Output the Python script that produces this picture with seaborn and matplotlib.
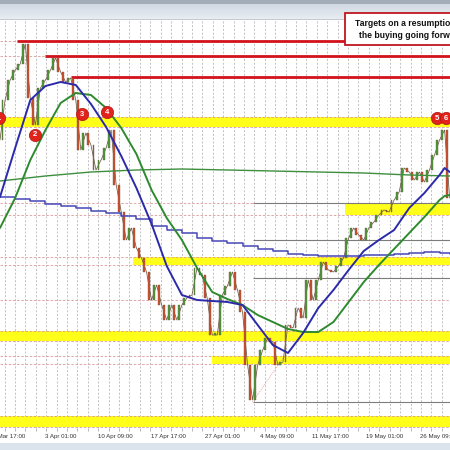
import numpy as np
import pandas as pd
import matplotlib
matplotlib.use("Agg")
import matplotlib.pyplot as plt
import seaborn as sns
from matplotlib.patches import Rectangle
from matplotlib.ticker import FixedLocator

# ---------------- data (x = 4-hour bar index, y = price) ----------------
date_labels = ["27 Mar 17:00", "3 Apr 01:00", "10 Apr 09:00", "17 Apr 17:00",
               "27 Apr 01:00", "4 May 09:00", "11 May 17:00", "19 May 01:00",
               "26 May 09:00"]
label_bars = [4.2, 36.2, 68.2, 100.2, 132.2, 164.2, 196.2, 228.2, 260.2]

price_bars = list(range(0, 268, 3))
closes = [1.0880, 1.0920, 1.0940, 1.0950, 1.0956, 1.0976, 1.0922, 1.0895, 1.0932, 1.0940,
          1.0950, 1.0962, 1.0948, 1.0938, 1.0942, 1.0920, 1.0870, 1.0887, 1.0875, 1.0850,
          1.0860, 1.0872, 1.0890, 1.0835, 1.0808, 1.0780, 1.0792, 1.0772, 1.0762, 1.0748,
          1.0720, 1.0735, 1.0715, 1.0700, 1.0715, 1.0700, 1.0715, 1.0722, 1.0725, 1.0752,
          1.0745, 1.0722, 1.0685, 1.0685, 1.0725, 1.0734, 1.0748, 1.0730, 1.0708, 1.0655,
          1.0620, 1.0655, 1.0670, 1.0682, 1.0678, 1.0655, 1.0658, 1.0695, 1.0692, 1.0712,
          1.0702, 1.0740, 1.0720, 1.0740, 1.0758, 1.0750, 1.0748, 1.0754, 1.0762, 1.0782,
          1.0792, 1.0785, 1.0780, 1.0792, 1.0798, 1.0805, 1.0810, 1.0808, 1.0820, 1.0828,
          1.0852, 1.0848, 1.0840, 1.0848, 1.0838, 1.0850, 1.0865, 1.0880, 1.0890, 1.0822]

ma_bars = list(range(0, 262, 9)) + [264, 267]
fast_ma = [1.0823, 1.0872, 1.0920, 1.0934, 1.0938, 1.0935, 1.0916, 1.0893, 1.0864, 1.0832,
           1.0796, 1.0754, 1.0725, 1.0720, 1.0719, 1.0718, 1.0715, 1.0695, 1.0675, 1.0667,
           1.0687, 1.0712, 1.0730, 1.0750, 1.0769, 1.0780, 1.0790, 1.0812, 1.0827, 1.0845,
           1.0852, 1.0848]
slow_ma = [1.0792, 1.0822, 1.0860, 1.0890, 1.0917, 1.0927, 1.0925, 1.0912, 1.0892, 1.0866,
           1.0830, 1.0802, 1.0780, 1.0752, 1.0728, 1.0721, 1.0715, 1.0705, 1.0698, 1.0691,
           1.0688, 1.0688, 1.0698, 1.0718, 1.0738, 1.0755, 1.0771, 1.0787, 1.0803, 1.0820,
           1.0824, 1.0825]

long_bars = [0, 27, 54, 81, 108, 135, 162, 189, 216, 243, 267]
long_ma = [1.0839, 1.0844, 1.0848, 1.0850, 1.0851, 1.0850, 1.0849, 1.0848, 1.0847, 1.0845, 1.0844]

step_bars = list(range(0, 262, 9)) + [267]
step_ma = [1.0823, 1.0821, 1.0819, 1.0816, 1.0814, 1.0812, 1.0809, 1.0807, 1.0804, 1.0801,
           1.0794, 1.0790, 1.0787, 1.0782, 1.0779, 1.0777, 1.0774, 1.0771, 1.0769, 1.0766,
           1.0765, 1.0764, 1.0764, 1.0764, 1.0765, 1.0765, 1.0766, 1.0767, 1.0768, 1.0767,
           1.0766]

target_levels = [1.0979, 1.0964, 1.0943]
target_start = [10, 27, 42]

zone_low = [1.0893, 1.0755, 1.0679, 1.0656, 1.0593, 1.0805]
zone_high = [1.0903, 1.0763, 1.0689, 1.0664, 1.0604, 1.0817]
zone_start = [0, 79, 0, 126, 0, 205]

dashed_levels = [1.0979, 1.0964, 1.0720]

fib_levels = [1.0817, 1.0780, 1.0742, 1.0618]
fib_start = 150
fib_end_bar = 168
fib_end_price = 1.0662

marker_text = ["1", "2", "3", "4", "5", "6"]
marker_bars = [-0.8, 20.8, 48.7, 63.5, 259.3, 264.8]
marker_prices = [1.0902, 1.0885, 1.0906, 1.0908, 1.0902, 1.0902]

note = "Targets on a resumption of\nthe buying going forward"

# ---------------- figure ----------------
sns.set_theme(style="white")
plt.rcParams['font.family'] = ['Liberation Sans', 'DejaVu Sans']

W = H = 450
fig = plt.figure(figsize=(4.5, 4.5), dpi=100, facecolor="white")

# header gradient strip
hdr = fig.add_axes([0, 1 - 20 / H, 1, 20 / H])
c_top = np.array([0.64, 0.68, 0.72])
c_a = np.array([0.82, 0.85, 0.89])
c_b = np.array([0.91, 0.93, 0.95])
rows = [c_top] * 4 + [c_a + (c_b - c_a) * i / 14 for i in range(15)] + [np.array([0.77, 0.80, 0.84])]
hdr.imshow(np.array(rows)[:, None, :], aspect="auto", extent=(0, 1, 0, 1))
hdr.set_axis_off()

# bottom strip
fig.patches.append(Rectangle((0, 0), 1, 7 / H, transform=fig.transFigure,
                             facecolor="#dbe3ec", edgecolor="none", zorder=0))

ax = fig.add_axes([0, 22 / H, 1, 408 / H])
ax.set_facecolor("white")
xmax = 267.2
ax.set_xlim(0, xmax)
ax.set_ylim(1.0592, 1.1000)
for s in ax.spines.values():
    s.set_visible(False)

# vertical dashed grid (daily)
grid_x = np.arange(2.73, xmax, 6.18)
ax.xaxis.set_minor_locator(FixedLocator(grid_x))
ax.grid(which="minor", axis="x", color="#b9b9b9", linestyle=(0, (2.5, 2)), linewidth=0.6)
ax.grid(which="major", visible=False)
ax.set_xticks(label_bars)
ax.set_xticklabels(date_labels)
ax.tick_params(axis="x", which="major", length=0, pad=4.5, labelsize=4.4, labelcolor="#333333")
ax.tick_params(axis="x", which="minor", length=2.5, width=0.5, color="#999999", bottom=True)
ax.set_yticks([])

# yellow zones with dashed edges
for lo, hi, st in zip(zone_low, zone_high, zone_start):
    ax.fill_between([st, xmax], lo, hi, color="#ffff1a", linewidth=0, zorder=1)
    ax.hlines([lo, hi], 0, xmax, colors="#d99a9a", linestyles=(0, (3, 2)), linewidth=0.6, zorder=1.5)
ax.hlines(dashed_levels, 0, xmax, colors="#d99a9a", linestyles=(0, (3, 2)), linewidth=0.6, zorder=1.5)

# fib lines
ax.hlines(fib_levels, fib_start, xmax, colors="#7c7c7c", linewidth=0.8, zorder=2)
ax.plot([fib_start, fib_end_bar], [fib_levels[-1], fib_end_price], color="#e08a8a",
        linestyle=(0, (1, 1.5)), linewidth=0.6, zorder=2)

# red target lines
ax.hlines(target_levels, target_start, xmax, colors="#d3121c", linewidth=2.0, zorder=3)

# candles: wick path + thin bodies
df_px = pd.DataFrame({"bar": price_bars, "price": closes})
sns.lineplot(data=df_px, x="bar", y="price", ax=ax, color="#6e5a44", linewidth=0.55, zorder=4)
opens = [closes[0]] + closes[:-1]
up = [c >= o for o, c in zip(opens, closes)]
cols = ["#4a9e3c" if u else "#d2502e" for u in up]
bottoms = [min(o, c) for o, c in zip(opens, closes)]
heights = [max(abs(c - o), 0.0002) for o, c in zip(opens, closes)]
ax.bar([b - 1.5 for b in price_bars], heights, bottom=bottoms, width=1.1, color=cols,
       edgecolor="#6a4a35", linewidth=0.25, zorder=4.5)

# moving averages
df_fast = pd.DataFrame({"bar": ma_bars, "price": fast_ma})
df_slow = pd.DataFrame({"bar": ma_bars, "price": slow_ma})
df_long = pd.DataFrame({"bar": long_bars, "price": long_ma})
df_step = pd.DataFrame({"bar": step_bars, "price": step_ma})
sns.lineplot(data=df_long, x="bar", y="price", ax=ax, color="#3d8f3d", linewidth=1.0, zorder=5)
sns.lineplot(data=df_step, x="bar", y="price", ax=ax, color="#4646b8", linewidth=1.1,
             drawstyle="steps-post", zorder=5)
sns.lineplot(data=df_slow, x="bar", y="price", ax=ax, color="#2e8a2e", linewidth=1.4, zorder=6)
sns.lineplot(data=df_fast, x="bar", y="price", ax=ax, color="#2a2aaa", linewidth=1.4, zorder=6)
ax.set_xlabel("")
ax.set_ylabel("")

# numbered markers
ax.scatter(marker_bars, marker_prices, s=78, color="#e2231b", edgecolors="#b01313",
           linewidths=0.5, zorder=8, clip_on=False)
for t, b, p in zip(marker_text, marker_bars, marker_prices):
    ax.text(b, p, t, color="white", fontsize=5.5, fontweight="bold",
            ha="center", va="center", zorder=9)

# note box
fig.patches.append(Rectangle((345 / W, 1 - 45 / H), 140 / W, 32 / H, transform=fig.transFigure,
                             facecolor="white", edgecolor="#c0161e", linewidth=1.3, zorder=10))
fig.text(411 / W, 1 - 29.5 / H, note, ha="center", va="center", fontsize=6.2,
         fontweight="bold", color="#111111", linespacing=1.35, zorder=11)

fig.savefig("out.png", dpi=100, facecolor="white")
